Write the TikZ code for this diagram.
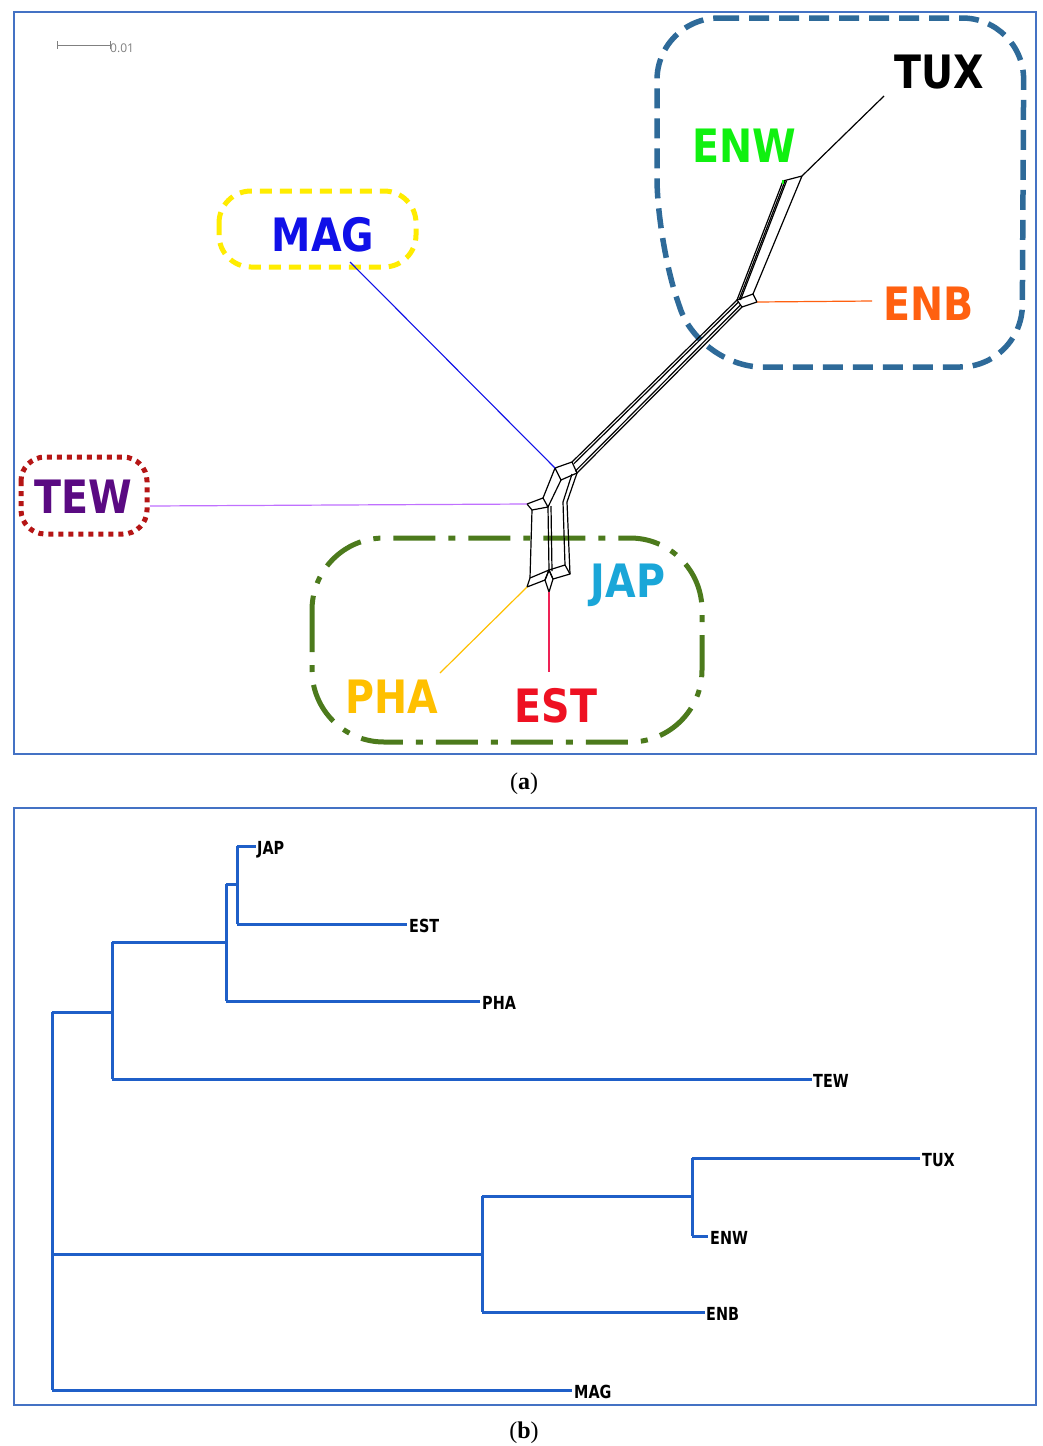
\documentclass[tikz,border=0pt]{standalone}
\usepackage{fontspec}
\setmainfont{Liberation Serif}
\newfontfamily\labfont[FakeStretch=0.86]{DejaVu Sans}
\newfontfamily\treefont[FakeStretch=0.8]{DejaVu Sans}
\newfontfamily\barfont{Open Sans}
\definecolor{framecol}{HTML}{4472C4}
\definecolor{treecol}{HTML}{1F5FC8}
\definecolor{magcol}{HTML}{1010E8}
\definecolor{enwcol}{HTML}{10F010}
\definecolor{enbcol}{HTML}{FF6010}
\definecolor{tewcol}{HTML}{5A0A82}
\definecolor{japcol}{HTML}{1AA6D8}
\definecolor{phacol}{HTML}{FFC000}
\definecolor{estcol}{HTML}{EE1122}
\definecolor{tewline}{HTML}{C070FF}
\definecolor{estline}{HTML}{EE2255}
\definecolor{bluebox}{HTML}{2E6A99}
\definecolor{yelbox}{HTML}{FFEC00}
\definecolor{redbox}{HTML}{B51515}
\definecolor{grnbox}{HTML}{4C7A1C}
\tikzset{
  frame/.style={draw=framecol, line width=1.3pt},
  net/.style={draw=black, line width=1.2pt, line join=round},
  lab/.style={font=\labfont\bfseries\fontsize{46}{50}\selectfont, inner sep=0pt, anchor=base},
  tlab/.style={font=\treefont\bfseries\fontsize{18}{20}\selectfont, inner sep=0pt, anchor=base west},
  branch/.style={draw=treecol, line width=3pt},
  captext/.style={font=\fontsize{24}{28}\selectfont, inner sep=0pt}
}
\begin{document}
\begin{tikzpicture}[x=1pt,y=-1pt]
\useasboundingbox (0,0) rectangle (1043,1446);
\fill[white] (0,0) rectangle (1043,1446);

% ---------- panel (a) ----------
\draw[frame] (14,12) rectangle (1036,754);
\node[captext] (capa) at (524,784) {(\textbf{a})};

% scale bar
\draw[gray, line width=1pt] (57,41) -- (57,49) (57,45) -- (110,45) (110,41) -- (110,49);
\node[font=\barfont\fontsize{12}{14}\selectfont, text=gray, inner sep=0pt, anchor=west] (scale) at (110,48) {0.01};

% group outlines
\draw[bluebox, line width=5.5pt, dash pattern=on 20pt off 10pt, rounded corners=62pt]
  (657,18) -- (1024,18) -- (1022,367) -- (700,367) -- (657,240) -- cycle;
\draw[yelbox, line width=5pt, dash pattern=on 12pt off 8pt, rounded corners=32pt]
  (219,191) rectangle (416,267);
\draw[redbox, line width=5pt, dash pattern=on 5pt off 5pt, rounded corners=24pt]
  (21,457) rectangle (147,534);
\draw[grnbox, line width=5pt, dash pattern=on 42pt off 13pt on 7pt off 13pt, rounded corners=72pt]
  (312,538) rectangle (702,742);

% network coordinates
\coordinate (a1) at (555,468);
\coordinate (a2) at (572,462);
\coordinate (a3) at (577,473);
\coordinate (a4) at (561,480);
\coordinate (b1) at (737,300);
\coordinate (b2) at (753,294);
\coordinate (b3) at (757,302);
\coordinate (b4) at (742,307);
\coordinate (c1) at (783,181);
\coordinate (c2) at (802,176);
\coordinate (d1) at (527,504);
\coordinate (d2) at (543,498);
\coordinate (d3) at (548,507);
\coordinate (d4) at (532,510);
\coordinate (f1) at (527,587);
\coordinate (f2) at (530,578);
\coordinate (g1) at (549,570);
\coordinate (g3) at (553,579);
\coordinate (g4) at (545,580);
\coordinate (g5) at (549,592);
\coordinate (h1) at (565,565);
\coordinate (h2) at (570,574);

% network
\draw[net] (a1) -- (a2) -- (a3) -- (a4) -- cycle;
\draw[net] (a2) -- (b1) (a3) -- (b4);
\draw[net] ([shift={(1.8,1.8)}]a2) -- ([shift={(1.8,1.8)}]b1);
\draw[net] ([shift={(-1.8,-1.8)}]a3) -- ([shift={(-1.8,-1.8)}]b4);
\draw[net] (b1) -- (b2) -- (b3) -- (b4) -- cycle;
\draw[net] (b1) -- (c1) (b2) -- (c2) (c1) -- (c2);
\draw[net] ([xshift=2pt]b1) -- ([xshift=2pt]c1);
\draw[net] ([xshift=3.5pt]b1) -- ([xshift=3.5pt]c1);
\draw[enwcol, line width=1.5pt] ([yshift=-3pt]c1) -- ([yshift=1pt]c1);
\draw[net] (d1) -- (d2) -- (d3) -- (d4) -- cycle;
\draw[net] (a1) -- (d2) (a4) -- (d3);
\draw[net] (a3) -- (567,502) (572,474) -- (563,502);
\draw[net] (d4) -- (f2) (d3) -- (g1) (551,506) -- (552,571);
\draw[net] (563,502) -- (h1) (567,502) -- (h2);
\draw[net] (f1) -- (f2) -- (g1) -- (g4) -- cycle;
\draw[net] (g1) -- (g3) -- (g5) -- (g4) -- cycle;
\draw[net] (g1) -- (h1) -- (h2) -- (g3) -- cycle;

% taxa labels
\node[lab, text=black] (tux) at (939,88) {TUX};
\node[lab, text=enwcol] (enw) at (744,162) {ENW};
\node[lab, text=magcol] (mag) at (323,251) {MAG};
\node[lab, text=enbcol] (enb) at (929,320) {ENB};
\node[lab, text=tewcol] (tew) at (83,513) {TEW};
\node[lab, text=japcol] (jap) at (628,597) {JAP};
\node[lab, text=phacol] (pha) at (392,713) {PHA};
\node[lab, text=estcol] (est) at (556,722) {EST};

% pendant edges
\coordinate (tuxend) at (884,96);
\coordinate (magend) at (350,262);
\coordinate (enbend) at (872,301);
\coordinate (tewend) at (150,506);
\coordinate (phaend) at (440,673);
\coordinate (estend) at (549,672);
\draw[black, line width=1.2pt] (c2) -- (tuxend);
\draw[magcol, line width=1.1pt] (magend) -- (a1);
\draw[enbcol, line width=1.2pt] (b3) -- (enbend);
\draw[tewline, line width=1.2pt] (tewend) -- (d1);
\draw[phacol, line width=1.2pt] (f1) -- (phaend);
\draw[estline, line width=1.4pt] (g5) -- (estend);

% ---------- panel (b) ----------
\draw[frame] (14,808) rectangle (1036,1405);
\node[captext] (capb) at (524,1433) {(\textbf{b})};

\draw[branch] (52,1012) -- (52,1390);
\draw[branch] (52,1012) -- (112,1012);
\draw[branch] (112,942) -- (112,1079);
\draw[branch] (112,942) -- (226,942);
\draw[branch] (226,884) -- (226,1001);
\draw[branch] (226,884) -- (237,884);
\draw[branch] (237,846) -- (237,924);
\draw[branch] (237,846) -- (256,846);
\draw[branch] (237,924) -- (407,924);
\draw[branch] (226,1001) -- (480,1001);
\draw[branch] (112,1079) -- (812,1079);
\draw[branch] (52,1254) -- (482,1254);
\draw[branch] (482,1196) -- (482,1312);
\draw[branch] (482,1196) -- (692,1196);
\draw[branch] (692,1158) -- (692,1236);
\draw[branch] (692,1158) -- (920,1158);
\draw[branch] (692,1236) -- (708,1236);
\draw[branch] (482,1312) -- (705,1312);
\draw[branch] (52,1390) -- (572,1390);

\node[tlab] (tjap) at (257,854) {JAP};
\node[tlab] (test) at (409,932) {EST};
\node[tlab] (tpha) at (482,1009) {PHA};
\node[tlab] (ttew) at (813,1087) {TEW};
\node[tlab] (ttux) at (922,1166) {TUX};
\node[tlab] (tenw) at (710,1244) {ENW};
\node[tlab] (tenb) at (706,1320) {ENB};
\node[tlab] (tmag) at (574,1398) {MAG};
\end{tikzpicture}
\end{document}
